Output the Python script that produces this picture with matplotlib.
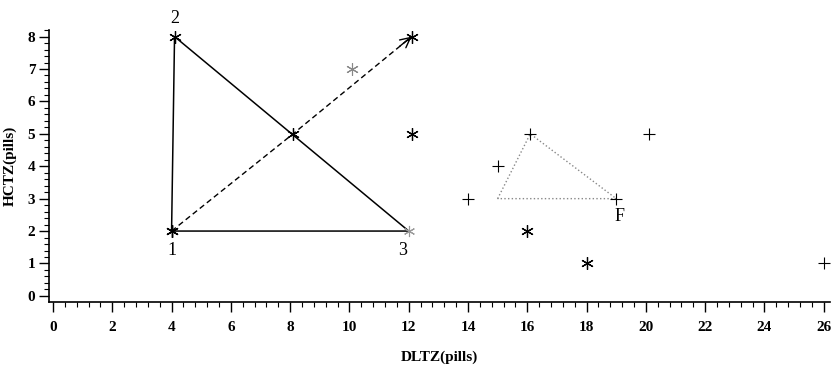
import numpy as np
import matplotlib
matplotlib.use('Agg')
import matplotlib.pyplot as plt
from matplotlib.ticker import MultipleLocator

plt.rcParams['font.family'] = ['Liberation Serif', 'DejaVu Serif']

# simplex triangle (solid)
tri_x = [4.0, 4.1, 12.0, 4.0]
tri_y = [2.0, 8.0, 2.0, 2.0]
tri_labels = ['1', '2', '3']

# reflection direction (dashed arrow)
arrow_x = [4.0, 8.1, 12.1]
arrow_y = [2.0, 5.0, 8.0]

# second simplex (gray, dotted)
tri2_x = [15.0, 16.1, 19.0, 15.0]
tri2_y = [3.0, 5.0, 3.0, 3.0]

# other observations
star_x = [12.1, 16.0, 18.0]
star_y = [5.0, 2.0, 1.0]
gray_star_x = [10.1]
gray_star_y = [7.0]
plus_x = [14.0, 15.0, 16.1, 19.0, 20.1, 26.0]
plus_y = [3.0, 4.0, 5.0, 3.0, 5.0, 1.0]

fig = plt.figure(figsize=(8.33, 3.67), dpi=100)
ax = fig.add_axes([0.059, 0.177, 0.937, 0.741])

ast = (6, 2, 0)

ax.plot(tri_x, tri_y, color='black', lw=1.1)
ax.plot(tri_x[:2], tri_y[:2], ls='none', marker=ast, ms=9, color='black', mew=0.9)
ax.plot(tri_x[2:3], tri_y[2:3], ls='none', marker=ast, ms=8, color='#999999', mew=0.8)
ax.plot(arrow_x, arrow_y, color='black', lw=1.0, ls=(0, (4, 2.5)),
        marker=ast, ms=9, mew=0.9)
# arrow head at the end of the dashed line
ax.annotate('', xy=(arrow_x[-1], arrow_y[-1]),
            xytext=(arrow_x[-1] - 0.05 * (arrow_x[-1] - arrow_x[0]),
                    arrow_y[-1] - 0.05 * (arrow_y[-1] - arrow_y[0])),
            arrowprops=dict(arrowstyle='->', color='black', lw=1.0,
                            mutation_scale=18, shrinkA=0, shrinkB=0))

ax.plot(tri2_x, tri2_y, color='#888888', lw=1.0, ls=':')
ax.plot(star_x, star_y, ls='none', marker=ast, ms=9, color='black', mew=0.9)
ax.plot(gray_star_x, gray_star_y, ls='none', marker=ast, ms=9, color='#888888', mew=0.8)
ax.plot(plus_x, plus_y, ls='none', marker='+', ms=9, color='black', mew=0.8)

ax.text(tri_x[0], tri_y[0] - 0.35, tri_labels[0], ha='center', va='top', fontsize=13)
ax.text(tri_x[1], tri_y[1] + 0.3, tri_labels[1], ha='center', va='bottom', fontsize=13)
ax.text(tri_x[2] - 0.2, tri_y[2] - 0.35, tri_labels[2], ha='center', va='top', fontsize=13)
ax.text(tri2_x[2] + 0.1, tri2_y[2] - 0.3, 'F', ha='center', va='top', fontsize=13)

ax.set_xlim(-0.13, 26.2)
ax.set_ylim(-0.19, 8.2)
ax.xaxis.set_major_locator(MultipleLocator(2))
ax.xaxis.set_minor_locator(MultipleLocator(0.4))
ax.yaxis.set_major_locator(MultipleLocator(1))
ax.yaxis.set_minor_locator(MultipleLocator(0.2))
ax.tick_params(which='major', length=7, width=1.0, labelsize=11, pad=7)
ax.tick_params(which='minor', length=3.5, width=0.8)
ax.tick_params(axis='y', which='major', pad=3)
for lab in ax.get_xticklabels() + ax.get_yticklabels():
    lab.set_fontweight('bold')

ax.spines['top'].set_visible(False)
ax.spines['right'].set_visible(False)
ax.spines['left'].set_linewidth(1.2)
ax.spines['bottom'].set_linewidth(1.2)

ax.set_xlabel('DLTZ(pills)', fontweight='bold', fontsize=11)
ax.set_ylabel('HCTZ(pills)', fontweight='bold', fontsize=11)
ax.xaxis.set_label_coords(0.5, -0.18)
ax.yaxis.set_label_coords(-0.041, 0.5)

fig.savefig('out.png', dpi=100)
